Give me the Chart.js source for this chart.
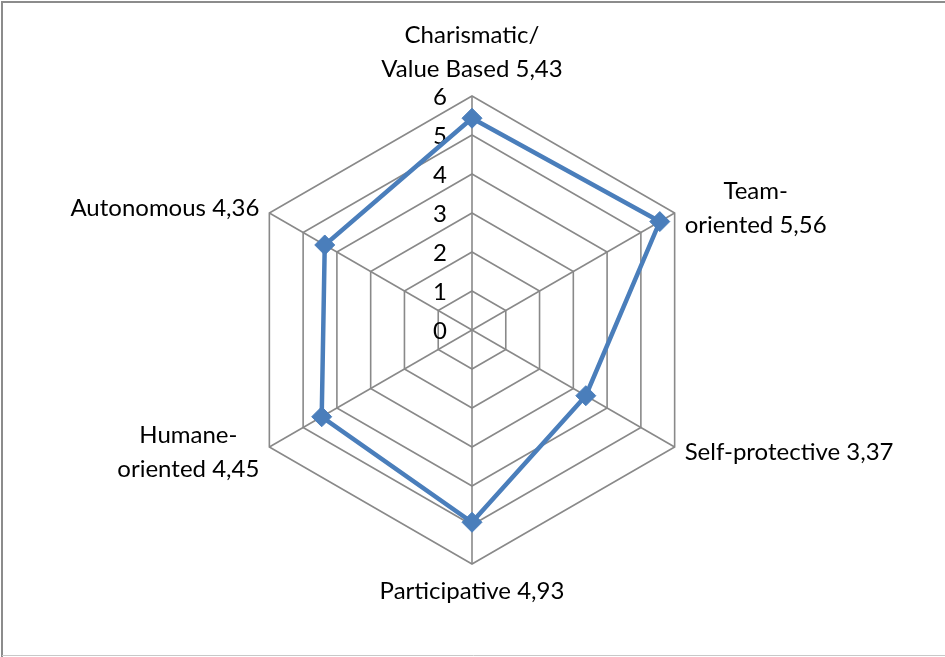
<!DOCTYPE html>
<html>
<head>
<meta charset="utf-8">
<script src="https://cdn.jsdelivr.net/npm/chart.js@4"></script>
<style>
  html, body { margin: 0; padding: 0; background: #fff; }
  #wrap { width: 945px; height: 657px; }
</style>
</head>
<body>
<div id="wrap"><canvas id="chart" width="945" height="657"></canvas></div>
<script>
// data
const categories = [
  ['Charismatic/', 'Value Based 5,43'],
  ['Team-', 'oriented 5,56'],
  ['Self-protective 3,37'],
  ['Participative 4,93'],
  ['Humane-', 'oriented 4,45'],
  ['Autonomous 4,36'],
];
const scores = [5.43, 5.56, 3.37, 4.93, 4.45, 4.36];
const tickLabels = ['0', '1', '2', '3', '4', '5', '6'];

const FONT = '24px Lato, "Open Sans", sans-serif';
const LINE_H = 34;

// frame around the chart
const framePlugin = {
  id: 'frame',
  beforeDraw(chart) {
    const c = chart.ctx;
    c.save();
    c.strokeStyle = '#8c8c8c';
    c.lineWidth = 2;
    c.beginPath();
    c.moveTo(2, 657);
    c.lineTo(2, 2);
    c.lineTo(945, 2);
    c.stroke();
    c.strokeStyle = '#c8c8c8';
    c.lineWidth = 1;
    c.beginPath();
    c.moveTo(2, 655.5);
    c.lineTo(945, 655.5);
    c.stroke();
    c.restore();
  }
};

// tick numbers left of the vertical axis, and the category labels
const labelsPlugin = {
  id: 'labels',
  beforeDatasetsDraw(chart) {
    const r = chart.scales.r;
    const c = chart.ctx;
    c.save();
    c.font = FONT;
    c.fillStyle = '#000';
    c.textBaseline = 'middle';

    c.textAlign = 'right';
    tickLabels.forEach((t) => {
      const y = r.yCenter - r.getDistanceFromCenterForValue(Number(t));
      c.fillText(t, r.xCenter - 25, y + 1);
    });
    c.restore();
  },
  afterDatasetsDraw(chart) {
    const r = chart.scales.r;
    const c = chart.ctx;
    c.save();
    c.font = FONT;
    c.fillStyle = '#000';
    c.textBaseline = 'middle';
    c.textAlign = 'center';

    categories.forEach((lines, i) => {
      const pos = r.getPointPositionForValue(i, r.max);
      const dx = (pos.x - r.xCenter) / r.drawingArea;
      const dy = (pos.y - r.yCenter) / r.drawingArea;
      const blockH = lines.length * LINE_H;
      const blockW = Math.max(...lines.map(l => c.measureText(l).width));
      let cx, cy;
      if (Math.abs(dx) < 0.1) {
        cx = pos.x;
        cy = pos.y + dy * (blockH / 2 + 10);
      } else {
        cx = dx > 0 ? pos.x + 10 + blockW / 2 : pos.x - 10 - blockW / 2;
        cy = pos.y + dy * 10;
      }
      lines.forEach((l, k) => {
        c.fillText(l, cx, cy - blockH / 2 + LINE_H * (k + 0.5));
      });
    });
    c.restore();
  }
};

new Chart(document.getElementById('chart'), {
  type: 'radar',
  data: {
    labels: categories,
    datasets: [{
      data: scores,
      borderColor: '#4a7ebb',
      backgroundColor: '#4a7ebb',
      borderWidth: 4.5,
      fill: false,
      pointStyle: 'rectRot',
      pointRadius: 10,
      pointBackgroundColor: '#4a7ebb',
      pointBorderColor: '#4a7ebb',
      pointBorderWidth: 1,
    }],
  },
  options: {
    responsive: false,
    animation: false,
    layout: {
      padding: { left: 200, right: 201, top: 96, bottom: 93 },
    },
    plugins: {
      legend: { display: false },
      tooltip: { enabled: false },
    },
    scales: {
      r: {
        min: 0,
        max: 6,
        ticks: { stepSize: 1, display: false },
        pointLabels: { display: false },
        grid: { color: '#898989', lineWidth: 1.6 },
        angleLines: { color: '#898989', lineWidth: 1.6 },
      },
    },
  },
  plugins: [framePlugin, labelsPlugin],
});
</script>
</body>
</html>
